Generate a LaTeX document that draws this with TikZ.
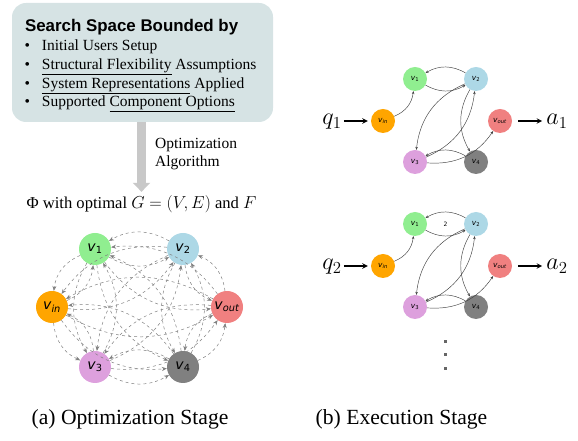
\documentclass[tikz,border=0pt]{standalone}
\usepackage{fontspec}
\setmainfont{Liberation Serif}
\newfontfamily\dejavu{DejaVu Sans}
\newfontfamily\sanshead{Liberation Sans}
\usepackage{tikz}
\usetikzlibrary{calc,positioning,arrows.meta}
\usepackage{xcolor}
\definecolor{boxc}{RGB}{214,227,228}
\definecolor{arrowgray}{RGB}{200,200,200}
\definecolor{cone}{HTML}{90EE90}
\definecolor{ctwo}{HTML}{ADD8E6}
\definecolor{cin}{HTML}{FFA500}
\definecolor{cout}{HTML}{F08080}
\definecolor{cthree}{HTML}{DDA0DD}
\definecolor{cfour}{HTML}{808080}
\newcommand{\vl}[1]{\textit{v}\textsubscript{#1}}
\tikzstyle{lnode}=[
  circle,inner sep=0pt,minimum size=32pt,font=\dejavu\fontsize{14}{14}\selectfont
]
\tikzstyle{rnode}=[
  circle,inner sep=0pt,minimum size=24pt,font=\dejavu\fontsize{7.5}{7.5}\selectfont
]
\tikzstyle{ledge}=[
  ->,>={Stealth[length=5pt,width=4pt]},draw=black!50,dashed,line width=0.5pt,bend right=30
]
\tikzstyle{redge}=[
  ->,>={Stealth[length=3pt,width=2.5pt]},draw=black!75,line width=0.45pt,bend right=30
]
\tikzstyle{bigarrow}=[
  draw=arrowgray,line width=9pt,-{Triangle[length=9pt,width=17pt]}
]
\tikzstyle{qarrow}=[
  ->,>=stealth,line width=1.4pt
]
\tikzstyle{spacebox}=[
  fill=boxc,rounded corners=14pt,minimum width=261pt,minimum height=119pt,inner sep=0pt
]
\tikzstyle{io}=[
  inner sep=2pt,font=\fontsize{17}{17}\selectfont
]
\begin{document}
\begin{tikzpicture}[x=1pt,y=1pt]
    \useasboundingbox (0,0) rectangle (578,441);
    % search space
    \node (space) at (142.5,378.5) [spacebox] {};
    \node (title) at ($(space.north west)+(13,-24.5)$) [anchor=west,inner sep=0pt,
      font=\sanshead\bfseries\fontsize{16.9}{17}\selectfont] {Search Space Bounded by};
    \node (list) at (24.3,366) [anchor=west,inner sep=0pt,font=\fontsize{15.5}{18.7}\selectfont] {%
      \begin{tabular}{@{}l@{\hspace{12pt}}l@{}}
      \textbullet & Initial Users Setup\\
      \textbullet & \underline{Structural Flexibility} Assumptions\\
      \textbullet & \underline{System Representations} Applied\\
      \textbullet & Supported \underline{Component Options}
      \end{tabular}};
    \node (phi) at (141.5,237) [font=\fontsize{16.6}{17}\selectfont] {Φ with optimal $G=(V,E)$ and $F$};
    \draw [bigarrow] (space.south -| phi.north) -- (phi.north);
    \node (algo) at (155,287) [anchor=west,align=left,inner sep=0pt,
      font=\fontsize{15.5}{18}\selectfont] {Optimization\\Algorithm};
    % optimization stage graph
    \node (l-1) at (95,192) [lnode,fill=cone] {\vl{1}};
    \node (l-2) at (183,192) [lnode,fill=ctwo] {\vl{2}};
    \node (l-in) at (52,134) [lnode,fill=cin] {\vl{\textit{in}}};
    \node (l-out) at (227,134) [lnode,fill=cout] {\vl{\textit{out}}};
    \node (l-3) at (95,74) [lnode,fill=cthree] {\vl{3}};
    \node (l-4) at (183,74) [lnode,fill=cfour] {\vl{4}};
    \foreach \a in {1,2,in,out,3,4}
      \foreach \b in {1,2,in,out,3,4}
        {\ifx\a\b\else\draw [ledge] (l-\a) to (l-\b);\fi}
    % execution stage graphs
    \foreach \k/\dy in {1/0,2/145} {
      \node (r\k-in) at (383,320-\dy) [rnode,fill=cin] {\vl{\textit{in}}};
      \node (r\k-1) at ($(r\k-in)+(32,42)$) [rnode,fill=cone] {\vl{1}};
      \node (r\k-2) at ($(r\k-in)+(93,42)$) [rnode,fill=ctwo] {\vl{2}};
      \node (r\k-out) at ($(r\k-in)+(117,0)$) [rnode,fill=cout] {\vl{\textit{out}}};
      \node (r\k-3) at ($(r\k-in)+(32,-41)$) [rnode,fill=cthree] {\vl{3}};
      \node (r\k-4) at ($(r\k-in)+(93,-41)$) [rnode,fill=cfour] {\vl{4}};
      \node (q\k) at ($(r\k-in)+(-51,-1)$) [io] {\scalebox{1.4}{$q_{\k}$}};
      \node (a\k) at ($(r\k-out)+(57,0)$) [io] {\scalebox{1.4}{$a_{\k}$}};
      \draw [qarrow,shorten >=3pt] (q\k.east |- r\k-in) -- (r\k-in);
      \draw [qarrow,shorten <=6pt,shorten >=2pt] (r\k-out) -- (a\k);
      \draw [redge] (r\k-in) to (r\k-1);
      \draw [redge] (r\k-2) to (r\k-1);
      \draw [redge] (r\k-1) to (r\k-2);
      \draw [redge] (r\k-2) to (r\k-3);
      \draw [redge] (r\k-3) to (r\k-2);
      \draw [redge] (r\k-2) to (r\k-4);
      \draw [redge] (r\k-4) to (r\k-3);
      \draw [redge] (r\k-3) to (r\k-out);
    }
    \node (wt) at ($(r2-1)!0.5!(r2-2)$) [font=\dejavu\fontsize{6}{6}\selectfont] {2};
    \foreach \y in {72,86,99}
      \fill [black!60] (443.5,\y-1.5) rectangle ++(3,3);
    % captions
    \node (capa) at (130,16) [anchor=base,font=\fontsize{21.6}{22}\selectfont] {(a) Optimization Stage};
    \node (capb) at (401.5,16) [anchor=base,font=\fontsize{21.6}{22}\selectfont] {(b) Execution Stage};
\end{tikzpicture}
\end{document}
